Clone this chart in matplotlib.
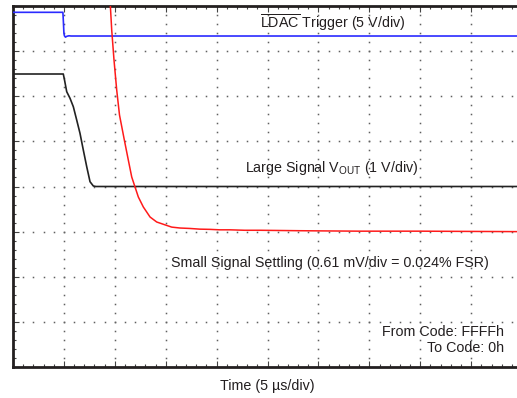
import numpy as np
import matplotlib
matplotlib.use('Agg')
import matplotlib.pyplot as plt

plt.rcParams['font.family'] = ['Liberation Sans', 'DejaVu Sans']
plt.rcParams['mathtext.fontset'] = 'custom'
plt.rcParams['mathtext.rm'] = 'Liberation Sans'
plt.rcParams['mathtext.it'] = 'Liberation Sans'

# traces (x = time divisions, y = vertical divisions)
ldac_t = [0.0, 0.98, 0.99, 1.00, 1.01, 1.03, 1.06, 1.10, 1.14, 9.9]
ldac_v = [7.86, 7.86, 7.65, 7.40, 7.34, 7.31, 7.33, 7.34, 7.335, 7.335]

large_t = [0.0, 0.988, 1.012, 1.055, 1.120, 1.185, 1.251, 1.316, 1.381, 1.448,
           1.513, 1.578, 1.63, 9.9]
large_v = [6.493, 6.493, 6.36, 6.101, 5.955, 5.768, 5.474, 5.179, 4.809, 4.439,
           4.106, 4.011, 4.0, 4.0]

small_t = [1.89, 1.906, 1.939, 1.984, 2.037, 2.092, 2.187, 2.265, 2.332, 2.397,
           2.462, 2.560, 2.692, 2.823, 2.986, 3.118, 3.281, 3.477, 3.67, 3.870,
           4.06, 4.263, 4.55, 4.853, 5.25, 5.639, 6.2, 6.817, 7.4, 7.996, 8.9, 9.9]
small_v = [8.3, 8.133, 7.468, 6.803, 6.139, 5.584, 5.030, 4.587, 4.211, 3.989,
           3.767, 3.546, 3.324, 3.213, 3.15, 3.10, 3.08, 3.07, 3.055, 3.05,
           3.04, 3.04, 3.03, 3.03, 3.025, 3.02, 3.015, 3.01, 3.01, 3.01, 3.005, 3.0]

n_xdiv = 10
n_ydiv = 8

fig = plt.figure(figsize=(5.17, 3.98), dpi=100)
ax = fig.add_axes([13/517, 31/398, 504/517, 361/398])
ax.set_xlim(0, 9.9)
ax.set_ylim(0, 8)

# dotted scope graticule
for k in range(1, n_xdiv):
    yy = np.arange(0, n_ydiv * 5 + 1) / 5
    ax.plot(np.full_like(yy, k), yy, ls='none', marker='s', ms=1.1, mew=0, color='#606060', zorder=1)
for k in range(1, n_ydiv):
    xx = np.arange(0, n_xdiv * 5 + 1) / 5
    ax.plot(xx, np.full_like(xx, k), ls='none', marker='s', ms=1.1, mew=0, color='#606060', zorder=1)

ax.plot(ldac_t, ldac_v, color='#2b2bff', lw=1.2, zorder=3)
ax.plot(large_t, large_v, color='#222222', lw=1.2, zorder=3)
ax.plot(small_t, small_v, color='#ff1a1a', lw=1.1, zorder=4)

for s in ['left', 'top', 'bottom']:
    ax.spines[s].set_linewidth(2)
    ax.spines[s].set_color('#231f20')
ax.spines['right'].set_visible(False)

ax.set_xticks(np.arange(0, 10, 1))
ax.set_xticks(np.arange(0, 10, 0.2), minor=True)
ax.set_yticks(np.arange(0, 9, 1))
ax.set_yticks(np.arange(0, 8.01, 0.2), minor=True)
ax.tick_params(which='both', direction='in', top=True, bottom=True, left=True, right=False,
               labelbottom=False, labelleft=False, color='#444444')
ax.tick_params(which='major', length=4, width=0.8)
ax.tick_params(which='minor', length=2.5, width=0.8)

tc = '#231f20'
fs = 10.3
ax.text(4.853, 7.51, r'$\overline{\mathrm{LDAC}}$ Trigger (5 V/div)', fontsize=fs, color=tc,
        ha='left', va='baseline')
ax.text(4.558, 4.33, r'Large Signal V$_{\mathrm{OUT}}$ (1 V/div)', fontsize=fs, color=tc,
        ha='left', va='baseline')
ax.text(3.10, 2.3, 'Small Signal Settling (0.61 mV/div = 0.024% FSR)', fontsize=fs, color=tc,
        ha='left', va='center')
ax.text(9.65, 0.77, 'From Code: FFFFh', fontsize=fs, color=tc, ha='right', va='center')
ax.text(9.65, 0.41, 'To Code: 0h', fontsize=fs, color=tc, ha='right', va='center')

fig.text(267/517, 1 - 386/398, 'Time (5 µs/div)', fontsize=fs, color=tc, ha='center', va='center')

fig.savefig('out.png', dpi=100)
